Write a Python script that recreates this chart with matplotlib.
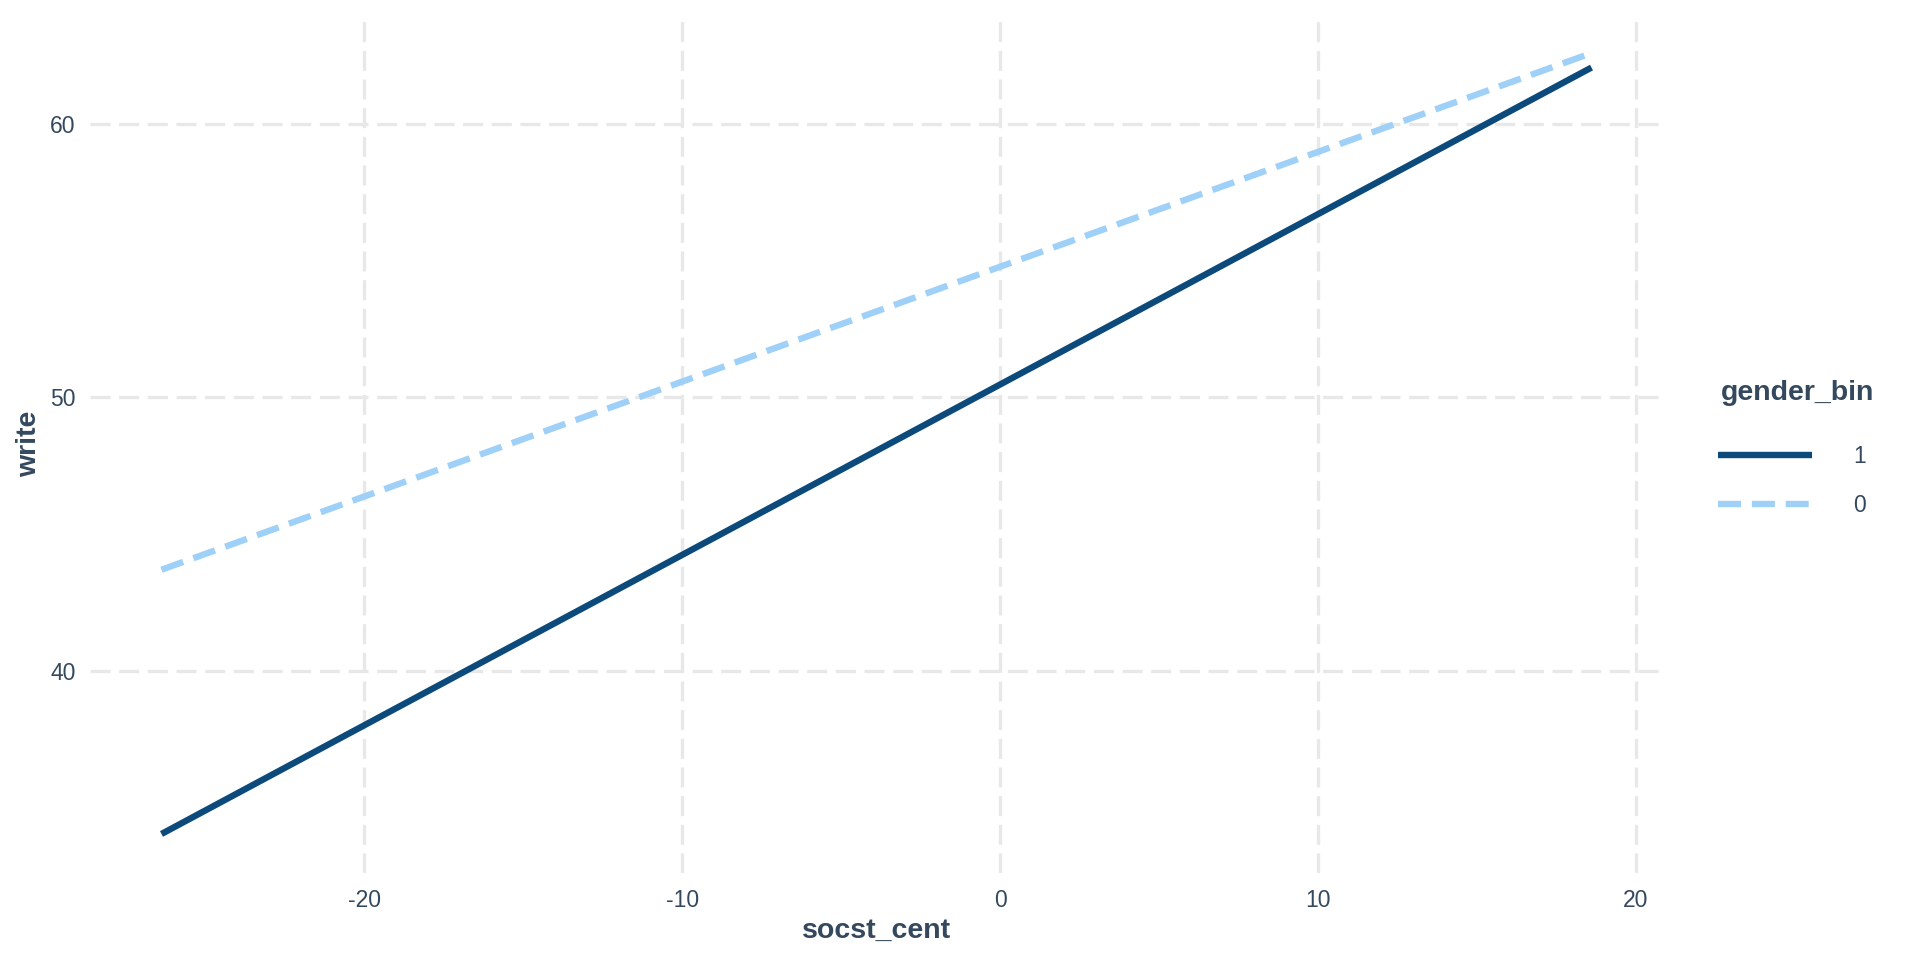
import matplotlib
matplotlib.use('Agg')
import matplotlib.pyplot as plt

plt.rcParams['font.family'] = ['Liberation Sans', 'DejaVu Sans']

# predicted lines for each gender_bin level
socst_cent = [-26.38, 18.6]
write_g1 = [34.04, 62.06]
write_g0 = [43.70, 62.59]

x_ticks = [-20, -10, 0, 10, 20]
y_ticks = [40, 50, 60]
legend_labels = ['1', '0']

text_col = '#34495E'
grid_col = '#E8E8E8'
dark_col = '#0B4A7B'
light_col = '#9FD0F8'

fig = plt.figure(figsize=(19.2, 9.6), dpi=100)
ax = fig.add_axes([90 / 1920, 1 - 873 / 960, (1663 - 90) / 1920, (873 - 14) / 960])

lw = 4.6
h1, = ax.plot(socst_cent, write_g1, color=dark_col, lw=lw, solid_capstyle='butt', zorder=3)
h0, = ax.plot(socst_cent, write_g0, color=light_col, lw=lw, ls=(0, (3.6, 1.7)),
              dash_capstyle='butt', zorder=3)

# ggplot style 5% expansion
xr = socst_cent[1] - socst_cent[0]
ax.set_xlim(socst_cent[0] - 0.05 * xr, socst_cent[1] + 0.05 * xr)
ylo = min(write_g1 + write_g0)
yhi = max(write_g1 + write_g0)
ax.set_ylim(ylo - 0.05 * (yhi - ylo), yhi + 0.05 * (yhi - ylo))

ax.set_xticks(x_ticks)
ax.set_yticks(y_ticks)
ax.set_xticklabels([str(t) for t in x_ticks])
ax.set_yticklabels([str(t) for t in y_ticks])
ax.grid(True, color=grid_col, lw=2.4, ls=(0, (6, 2.6)))
ax.set_axisbelow(True)
for s in ax.spines.values():
    s.set_visible(False)
ax.tick_params(length=0, labelsize=16.5, labelcolor=text_col)
ax.tick_params(axis='x', pad=11.5)
ax.tick_params(axis='y', pad=10.5)

ax.set_xlabel('socst_cent', fontsize=20.5, fontweight='bold', color=text_col, labelpad=4)
ax.set_ylabel('write', fontsize=20.5, fontweight='bold', color=text_col, labelpad=6)

# legend: title as separate text so its gap to the keys matches
fig.text(1721 / 1920, 1 - 400 / 960, 'gender_bin', fontsize=20.5, fontweight='bold',
         color=text_col, ha='left', va='baseline')
leg = fig.legend([h1, h0], legend_labels, loc='upper left',
                 bbox_to_anchor=(1718 / 1920, 1 - 445 / 960), frameon=False,
                 borderaxespad=0, borderpad=0,
                 fontsize=16.5, handlelength=4.1, handletextpad=1.8,
                 labelspacing=1.13)
for t in leg.get_texts():
    t.set_color(text_col)

fig.savefig('out.png', dpi=100)
